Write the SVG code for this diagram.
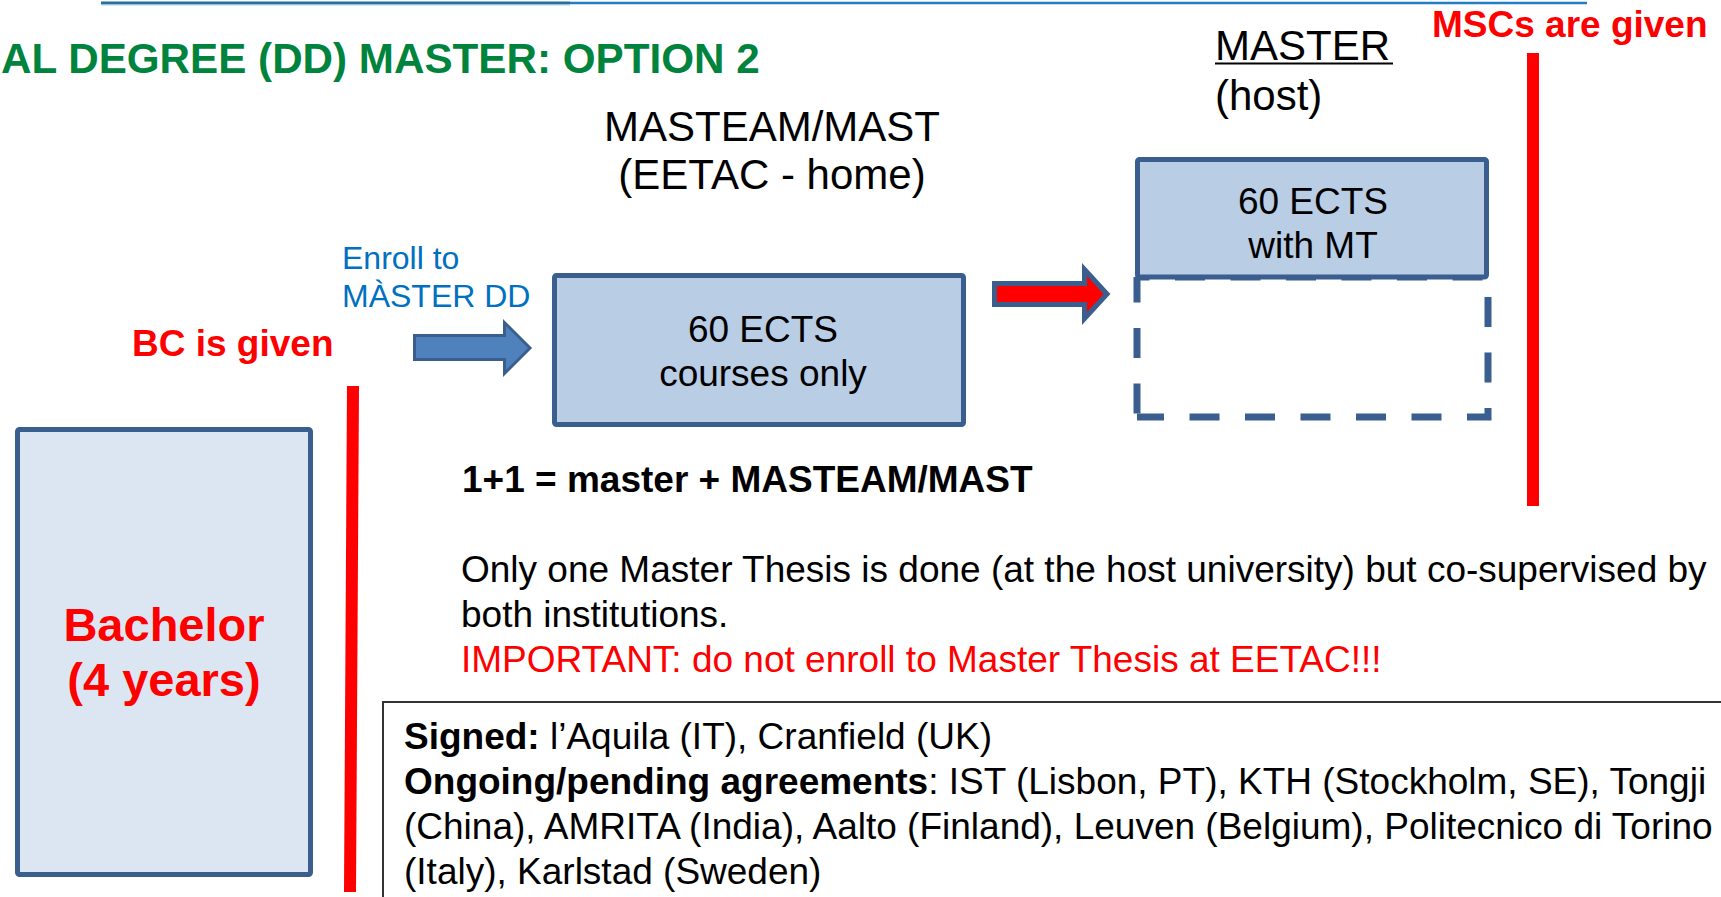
<svg xmlns="http://www.w3.org/2000/svg" width="1721" height="897" viewBox="0 0 1721 897">
  <style>
    text { font-family: "Liberation Sans", Arial, sans-serif; }
    .b { font-weight: bold; }
    .red { fill: #ff0000; }
    .blk { fill: #000000; }
    .box { fill: #b9cde5; stroke: #3a5f8f; stroke-width: 5; }
    .dash { fill: none; stroke: #3a5f8f; stroke-width: 7; stroke-dasharray: 30 25.5; }
  </style>

  <rect width="1721" height="897" fill="#ffffff"/>

  <!-- header rule -->
  <g id="rule">
    <line x1="570" y1="3" x2="1587" y2="3" stroke="#1f7dc3" stroke-width="2.5"/>
    <line x1="101" y1="3" x2="570" y2="3" stroke="#2a6e9c" stroke-width="3"/>
    <line x1="101" y1="5" x2="570" y2="5" stroke="#9fd0ea" stroke-width="1"/>
  </g>

  <!-- title -->
  <text id="title" x="1" y="73" font-size="42.2" class="b" fill="#00843d">AL DEGREE (DD) MASTER: OPTION 2</text>

  <!-- column headings -->
  <g id="home-heading" font-size="42" class="blk">
    <text x="772" y="141" text-anchor="middle">MASTEAM/MAST</text>
    <text x="772" y="189" text-anchor="middle">(EETAC - home)</text>
  </g>
  <g id="host-heading" font-size="42" class="blk">
    <text x="1215" y="60">MASTER</text>
    <line x1="1215" y1="63.5" x2="1393" y2="63.5" stroke="#000" stroke-width="2"/>
    <text x="1215" y="110">(host)</text>
  </g>

  <!-- degree milestones -->
  <g id="bc-given">
    <text x="132" y="356" font-size="37" class="b red">BC is given</text>
    <polygon points="347,386 359,386 356,892 344,892" fill="#ff0000"/>
  </g>
  <g id="msc-given">
    <text x="1432" y="37" font-size="37" class="b red">MSCs are given</text>
    <rect x="1527" y="53" width="12" height="453" fill="#ff0000"/>
  </g>

  <!-- bachelor -->
  <g id="bachelor">
    <rect x="17.5" y="429.5" width="293" height="445" rx="2" fill="#dce6f2" stroke="#3a5f8f" stroke-width="5"/>
    <text x="164" y="641" text-anchor="middle" font-size="47" class="b red">Bachelor</text>
    <text x="164" y="696" text-anchor="middle" font-size="47" class="b red">(4 years)</text>
  </g>

  <!-- enrol label -->
  <g id="enroll" font-size="32" fill="#0070c0">
    <text x="342" y="269">Enroll to</text>
    <text x="342" y="307">MÀSTER DD</text>
  </g>

  <!-- home year -->
  <g id="home-year">
    <rect class="box" x="554.5" y="275.5" width="409" height="149" rx="2"/>
    <text x="763" y="342" text-anchor="middle" font-size="37" class="blk">60 ECTS</text>
    <text x="763" y="386" text-anchor="middle" font-size="37" class="blk">courses only</text>
  </g>

  <!-- host year: dashed frame with the MT block on top -->
  <g id="host-year">
    <path class="dash" d="M1137,277 H1488 V417 H1137" stroke-dashoffset="17.5"/>
    <path class="dash" d="M1137,277 V417" stroke-dashoffset="4.5"/>
    <rect class="box" x="1137.5" y="159.5" width="349" height="117.5" rx="2"/>
    <text x="1313" y="214" text-anchor="middle" font-size="37" class="blk">60 ECTS</text>
    <text x="1313" y="258" text-anchor="middle" font-size="37" class="blk">with MT</text>
  </g>

  <!-- connectors -->
  <g id="connectors" stroke="#3a5f8f" stroke-linejoin="miter">
    <polygon points="414.5,335.5 504.5,335.5 504.5,322.5 530,348 504.5,373.5 504.5,359.5 414.5,359.5" fill="#4f81bd" stroke-width="3"/>
    <polygon points="994.5,283.5 1084.5,283.5 1084.5,269.5 1107,294 1084.5,318.5 1084.5,304.5 994.5,304.5" fill="#ff0000" stroke-width="5"/>
  </g>

  <!-- notes -->
  <g id="notes" font-size="37">
    <text x="462" y="492" class="b blk">1+1 = master + MASTEAM/MAST</text>
    <text x="461" y="582" class="blk">Only one Master Thesis is done (at the host university) but co-supervised by</text>
    <text x="461" y="627" class="blk">both institutions.</text>
    <text x="461" y="672" class="red">IMPORTANT: do not enroll to Master Thesis at EETAC!!!</text>
  </g>

  <!-- agreements -->
  <g id="agreements" font-size="37" class="blk">
    <rect x="383" y="702" width="1360" height="220" fill="none" stroke="#333333" stroke-width="2"/>
    <text x="404" y="749"><tspan class="b">Signed:</tspan> l’Aquila (IT), Cranfield (UK)</text>
    <text x="404" y="794"><tspan class="b">Ongoing/pending agreements</tspan>: IST (Lisbon, PT), KTH (Stockholm, SE), Tongji</text>
    <text x="404" y="839">(China), AMRITA (India), Aalto (Finland), Leuven (Belgium), Politecnico di Torino</text>
    <text x="404" y="884">(Italy), Karlstad (Sweden)</text>
  </g>
</svg>
